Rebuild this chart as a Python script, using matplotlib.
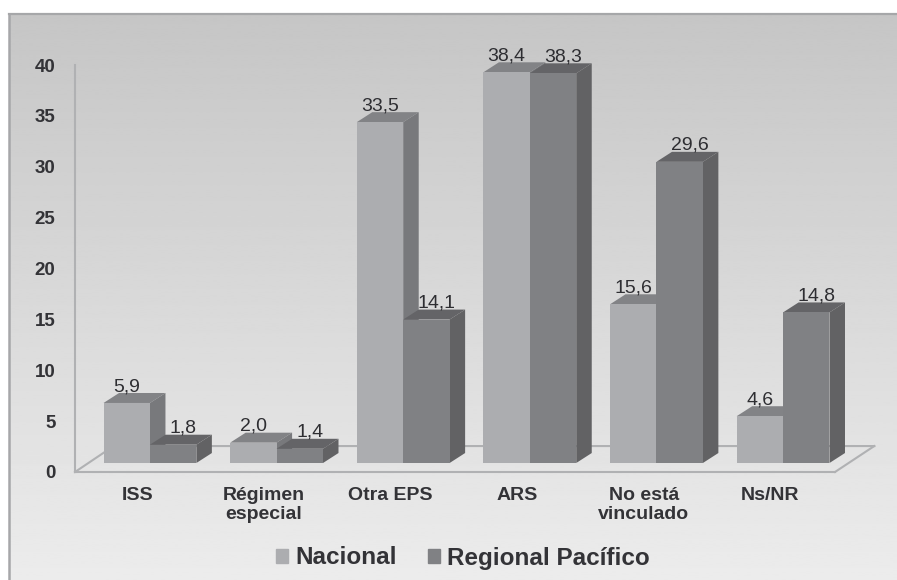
# Afiliacion al sistema de salud: Nacional vs Regional Pacifico
import numpy as np
import matplotlib
matplotlib.use("Agg")
import matplotlib.pyplot as plt
from matplotlib.patches import Patch
from matplotlib.transforms import offset_copy

categories = ["ISS", "Régimen\nespecial", "Otra EPS", "ARS", "No está\nvinculado", "Ns/NR"]
nacional = [5.9, 2.0, 33.5, 38.4, 15.6, 4.6]
pacifico = [1.8, 1.4, 14.1, 38.3, 29.6, 14.8]
y_ticks = [0, 5, 10, 15, 20, 25, 30, 35, 40]

W, H = 897, 580
plt.rcParams["font.family"] = ["Liberation Sans", "DejaVu Sans"]
text_col = "#333337"

fig = plt.figure(figsize=(W / 100, H / 100), dpi=100, facecolor="white")

# panel with grey gradient
bg = fig.add_axes([0, 0, 1, 1], zorder=0)
bg.set_xlim(0, W)
bg.set_ylim(H, 0)
bg.axis("off")
grad = np.linspace(0, 1, 256).reshape(-1, 1)
bg.imshow(grad, extent=[9, W, H, 14], aspect="auto", cmap="gray",
          vmin=-5.17, vmax=1.5, zorder=1)
bg.plot([9, 9], [H, 14], color="#a6a7a9", lw=1.8, zorder=2)
bg.plot([9, W], [14, 14], color="#a6a7a9", lw=1.6, zorder=2)

ax = fig.add_axes([75 / W, (H - 472) / H, 760 / W, 407 / H], zorder=1)
ax.patch.set_alpha(0)
ax.set_xlim(-0.592, 5.41)
ax.set_ylim(0, 40)
for s in ["top", "right"]:
    ax.spines[s].set_visible(False)
for s in ["left", "bottom"]:
    ax.spines[s].set_color("#b0b1b3")
    ax.spines[s].set_linewidth(1.5)

# depth of the fake 3d, in data units
dx = 0.1224
dy = 0.98
w = 0.3665
bars_tr = offset_copy(ax.transData, fig=fig, x=0, y=9, units="dots")

# floor
fx = [-0.592, -0.592 + 0.305, 5.41 + 0.31, 5.41]
fy = [0, 2.55, 2.55, 0]
ax.plot(fx[:3], fy[:3], color="#b0b1b3", lw=1.5, clip_on=False, zorder=1)
ax.plot(fx[2:], fy[2:], color="#b0b1b3", lw=1.5, clip_on=False, zorder=1)


def draw_bars(vals, xpos, front, top, side, z, lab_shift):
    ax.bar(xpos, vals, width=w, color=front, align="edge", transform=bars_tr,
           clip_on=False, zorder=z + 0.2)
    for x, v in zip(xpos, vals):
        ax.fill([x, x + dx, x + w + dx, x + w], [v, v + dy, v + dy, v], color=top, lw=0,
                transform=bars_tr, clip_on=False, zorder=z)
        ax.fill([x + w, x + w + dx, x + w + dx, x + w], [0, dy, v + dy, v], color=side, lw=0,
                transform=bars_tr, clip_on=False, zorder=z)
        ax.text(x + w / 2 + lab_shift, v + dy - 0.2, f"{v:.1f}".replace(".", ","), ha="center",
                va="bottom", fontsize=14, color="#2e2e32", transform=bars_tr, zorder=10,
                clip_on=False)


pos = np.arange(len(categories))
draw_bars(nacional, pos - w, "#acadb0", "#828386", "#78797c", 3, 0.0)
draw_bars(pacifico, pos, "#808184", "#646467", "#626264", 4, 0.08)

ax.set_yticks(y_ticks)
ax.tick_params(axis="y", length=0, pad=14, labelsize=13.5, labelcolor=text_col)
for lab in ax.get_yticklabels():
    lab.set_fontweight("bold")
# the labels sit a bit left of the group centre in the original
ax.set_xticks(pos - 0.1)
ax.set_xticklabels(categories, fontsize=14, fontweight="bold", color=text_col, linespacing=1.15)
ax.tick_params(axis="x", length=0, pad=11)

handles = [Patch(color="#acadb0", label="Nacional"), Patch(color="#808184", label="Regional Pacífico")]
fig.legend(handles=handles, ncols=2, loc="center", bbox_to_anchor=(463 / W, (H - 558) / H),
           frameon=False, handlelength=0.5, handleheight=0.5, handletextpad=0.3,
           columnspacing=1.25, prop={"size": 17.5, "weight": "bold"}, labelcolor=text_col)

fig.savefig("out.png", dpi=100)
